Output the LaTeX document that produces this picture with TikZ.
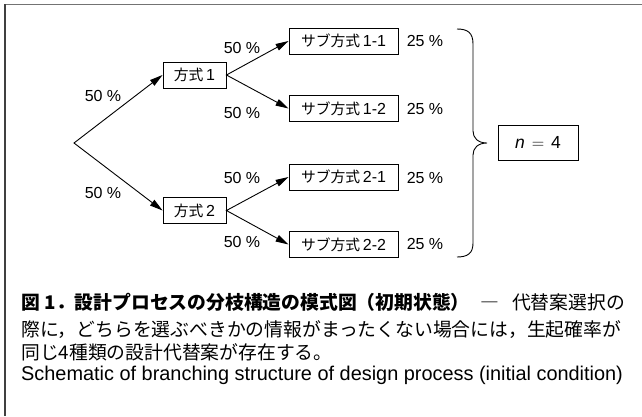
\documentclass[tikz,border=0pt]{standalone}
\usepackage{fontspec}
\setmainfont{Liberation Sans}
\newfontfamily\jp{Noto Sans CJK JP}
\newcommand\jpsmall[1]{{\jp\fontsize{14.8}{18}\selectfont #1}}
\usetikzlibrary{arrows.meta}
\begin{document}
\begin{tikzpicture}[x=1pt,y=-1pt,
  box/.style={draw, line width=0.9pt, minimum height=26pt, inner sep=0pt,
    font=\fontsize{16}{18}\selectfont},
  jpbox/.style={box, minimum width=63pt},
  subbox/.style={box, minimum width=109pt},
  pct/.style={inner sep=0pt, font=\fontsize{16}{18}\selectfont},
  fork/.style={line width=0.9pt, line join=miter,
    {Triangle[length=13pt,width=7pt]}-{Triangle[length=13pt,width=7pt]}},
  capjp/.style={anchor=base west, inner sep=0pt, font=\jp\fontsize{18.8}{22}\selectfont},
  capen/.style={anchor=base west, inner sep=0pt, font=\fontsize{19.9}{22}\selectfont}]

\useasboundingbox (0,0) rectangle (642,416);
\fill[white] (0,0) rectangle (642,416);
% frame lines (top and left only)
\draw[line width=1.5pt, black!55] (5,4.5) -- (642,4.5);
\draw[line width=1.5pt, black!75] (5,4) -- (5,416);

% tree
\coordinate (root) at (74,143);
\node[jpbox] (m1) at (194.5,75) {\jpsmall{方式}\,1};
\node[jpbox] (m2) at (194.5,210.5) {\jpsmall{方式}\,2};
\node[subbox] (s11) at (343.5,41) {\jpsmall{サブ方式}\,1-1};
\node[subbox] (s12) at (343.5,108.5) {\jpsmall{サブ方式}\,1-2};
\node[subbox] (s21) at (343.5,177) {\jpsmall{サブ方式}\,2-1};
\node[subbox] (s22) at (343.5,244.5) {\jpsmall{サブ方式}\,2-2};

\draw[fork] (m1.west) -- (root) -- (m2.west);
\draw[fork] (s11.west) -- (m1.east) -- (s12.west);
\draw[fork] (s21.west) -- (m2.east) -- (s22.west);

% probabilities
\node[pct] (p1) at (103,96) {50 \%};
\node[pct] (p2) at (103,192.5) {50 \%};
\node[pct] (p11) at (242,48) {50 \%};
\node[pct] (p12) at (242,112.5) {50 \%};
\node[pct] (p21) at (242,177.5) {50 \%};
\node[pct] (p22) at (242,241.5) {50 \%};
\node[pct] (q11) at (425,41) {25 \%};
\node[pct] (q12) at (425,109) {25 \%};
\node[pct] (q21) at (425,177.5) {25 \%};
\node[pct] (q22) at (425,244) {25 \%};

% brace and total
\draw[line width=0.9pt] (457,29) .. controls (468,29) and (473,33) .. (473,44)
  -- (473,131) .. controls (473,138) and (478,143) .. (487,143)
  .. controls (478,143) and (473,148) .. (473,155)
  -- (473,243) .. controls (473,253) and (468,257) .. (457,257);
\node[box, minimum width=80pt, minimum height=35pt, font=\fontsize{17.5}{20}\selectfont]
  (n) at (538,142.5) {\textit{n}\hspace{7pt}$=$\hspace{7pt}4};

% caption
\node[capjp] (c1) at (21,309) {\bfseries 図\hspace{0.25em}1．設計プロセスの分枝構造の模式図（初期状態）\mdseries\hspace{0.55em}―\hspace{0.7em}代替案選択の};
\node[capjp] (c2) at (21,336) {際に，どちらを選ぶべきかの情報がまったくない場合には，生起確率が};
\node[capjp] (c3) at (21,359) {同じ4種類の設計代替案が存在する。};
\node[capen] (c4) at (21,380) {Schematic of branching structure of design process (initial condition)};
\end{tikzpicture}
\end{document}
